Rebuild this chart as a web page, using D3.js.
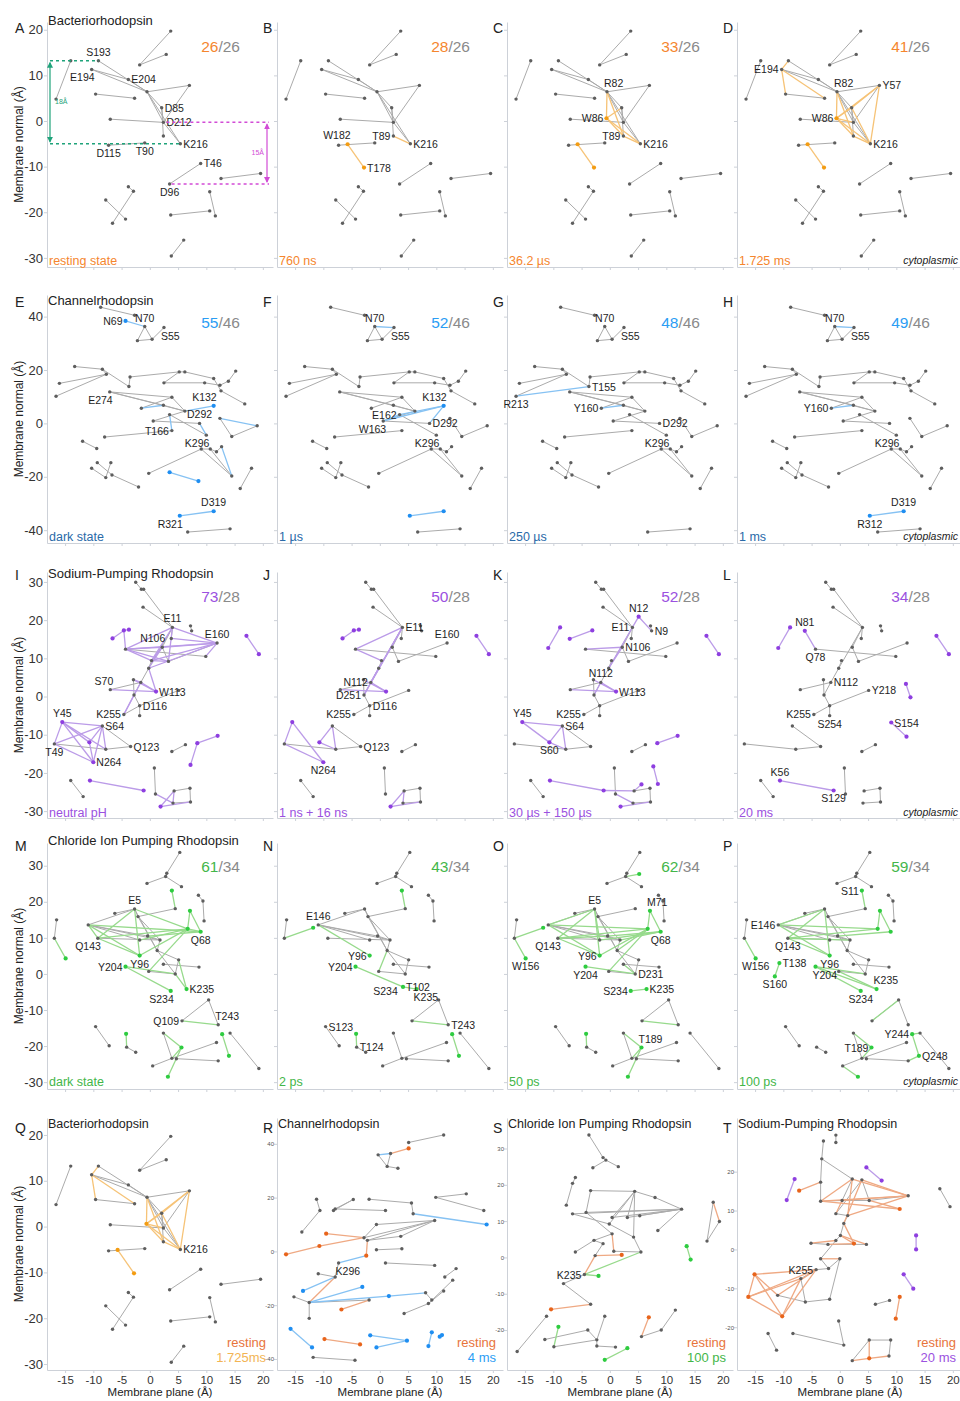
<!DOCTYPE html>
<html>
<head>
<meta charset="utf-8">
<script src="https://cdn.jsdelivr.net/npm/d3@7"></script>
<style>
body{margin:0;background:#fff;}
text{font-family:"Liberation Sans",Arial,Helvetica,sans-serif;}
</style>
</head>
<body>
<svg id="fig" width="960" height="1401"></svg>
<script>
// ---------- data (Å) ----------
var brNodes = [
 ["b1",3.7,19.7],["b2",2.9,14.6],["b3",-1.8,12.3],["b4",-14,13.2],["b5",-16.6,4.8],
 ["S193",-9.1,13.2],["E194",-10.3,11.3],["E204",-3.8,9.1],["R82",-0.5,6.4],["Y57",7,7.8],
 ["b11",-9.6,5.9],["b12",-2.7,5],["D85",2.1,2.9],["D212",2.4,-0.3],["b15",-7,0.4],
 ["T89",2.4,-3.3],["K216",5.4,-5],["T90",-0.9,-4.8],["D115",-7.3,-5.3],["T46",9,-9.3],
 ["D96",3.5,-13.8],["b22",12.6,-12.6],["b23",19.6,-11.5],["b24",-3.8,-14.4],["b25",-2.9,-15.4],
 ["b26",-7.8,-17.3],["b27",-4.3,-21.5],["b28",-6.6,-22.4],["b29",10.6,-15.5],["b30",11.6,-20.8],
 ["b31",10.6,-19.7],["b32",3.7,-20.6],["b33",6,-26.1],["b34",3.8,-29.6],
 ["W182",-5.7,-5.1],["T178",-2.8,-10.2],["W86",-0.6,0.6]
];
var brBase = ["b1-b3","b2-b3","b4-b5","S193-R82","E194-R82","E194-E204","E204-R82","R82-Y57","R82-D85","R82-D212",
 "R82-K216","Y57-D212","D85-T89","D85-D212","D212-K216","b11-b12","b15-D212","D115-T90","T46-D96","b22-b23",
 "b24-b25","b25-b28","b26-b27","b29-b30","b32-b31","b33-b34"];
var brB = ["W182-T178","T89-K216"];
var brC = ["W182-T178","T89-K216","R82-W86","W86-D85","W86-T89","W86-K216","R82-T89"];
var brD = ["W182-T178","T89-K216","R82-W86","W86-D85","W86-K216","W86-Y57","Y57-K216","W86-D212","E194-b11",
 "E194-b12","S193-E194","R82-T89","D85-K216","W86-T89","Y57-D85"];
var brCounts = [26,28,33,41], brRef = 26;
var brTimes = ["resting state","760 ns","36.2 µs","1.725 ms"];

var chNodes = [
 ["c1",-8.7,43.5],["c2",-2.7,40.5],["N69",-4.3,38.4],["N70",-0.9,36.3],["S55",2.5,35.9],["c4",-2.2,31],["c5",0.4,31.5],
 ["c6",-13.3,21.3],["c7",-8.4,20.3],["c8",-7.7,18.4],["c9",-16,15],["R213",-16.6,10.2],["T155",-3.7,13.8],["c12",-3.5,17.4],
 ["c13",5.2,19.3],["c14",6.2,19.3],["c15",11.3,16.8],["c16",2.5,15.2],["c17",9.7,15.2],["c18",12.4,14.3],["c19",13.9,15.8],
 ["c20",15.2,19.6],["c21",12.6,12.2],["c22",16.8,7.3],["E274",-7.1,11.8],["c24",3.9,9.8],["c25",2.4,6.8],["c26",6.2,4.6],
 ["Y160",-1.5,5.7],["K132",11.3,6.6],["E162",3.5,3.3],["W163",0.6,0.9],["D292",8.8,0],["c32",12.4,1.9],["c33",19,-0.9],
 ["T166",3.9,-2.7],["K296",10,-4.4],["c36",14.5,-4.9],["c37",-8,-5.1],["c38",-11.9,-6.7],["c39",-9.4,-9.4],
 ["c40",9.1,-9.6],["c41",10.7,-9.6],["c42",11.8,-10.6],["c43",12.7,-8.7],["c44",14.5,-19.7],["c45",18,-16.8],["c46",16,-24.4],
 ["c47",-0.2,-18.7],["c48",3.5,-18.3],["c49",8.6,-21.6],["c50",-10.3,-16.8],["c51",-9.3,-14.7],["c52",-7.8,-20.3],
 ["c53",-6.9,-14.7],["c54",-6.7,-19.3],["c55",-2,-23.8],["D319",11.3,-32.9],["R321",5.3,-34.6],["c58",6.7,-40.7],["c59",14.2,-39.5]
];
var chBase = ["c1-c2","N70-c4","N70-c5","c4-c5","c5-S55","c6-c7","c7-c8","c9-c8","R213-c8","c7-T155","c12-c13","c16-c17",
 "c14-c15","c17-c18","c19-c20","c21-c22","c15-c21","E274-c24","E274-c25","E274-c26","Y160-c24","c24-c26","W163-c26",
 "W163-D292","E162-K296","c32-c36","c33-c36","c37-T166","c38-c39","c40-c41","c41-c42","c42-c43","c47-c40","c40-c44",
 "c45-c46","c50-c52","c51-c54","c53-c52","c54-c55","c58-c59","c12-T155","c16-c13","c18-c19","c13-c14","c41-c44","c25-c26"];
var chE = ["N69-N70","Y160-c25","c26-K132","E162-T166","D292-K296","c32-c33","c43-c44","c48-c49","R321-D319"];
var chF = ["N70-S55","W163-K132","D292-K132","E162-K132","W163-E162","R321-D319"];
var chG = ["R213-T155","Y160-c25"];
var chH = ["N70-S55","Y160-c25","R321-D319"];
var chCounts = [55,52,48,49], chRef = 46;
var chTimes = ["dark state","1 µs","250 µs","1 ms"];

var naNodes = [
 ["n1",-2.5,29.9],["n2",-1.5,28.1],["n2b",-1.1,28.1],["n3",-1.2,23.4],["E11",4,18.1],["N12",5.1,20.9],["n5",7.2,18.5],
 ["N9",7.4,17.2],["n7",3.8,15.2],["E160",11.9,14],["N106",2.2,12.9],["Q78",-4.3,12.4],["n11",9.9,10.5],["n12",0.3,9.4],
 ["n13",3.3,9.2],["n14",-0.2,7.4],["p1",-6.6,15.2],["p2",-4.6,17.3],["p3",-3.7,17.5],["N81",-6.2,17.2],["p4",17.1,15.9],
 ["p5",19.3,11.1],["S70",-7,1.8],["n16",-2.9,4.4],["N112",-1.6,3.7],["D251",-2.8,0.4],["W113",1.1,1.3],["Y218",5.1,1.6],
 ["D116",-1.8,-2.4],["K255",-4.6,-4.7],["S254",-1.8,-5],["Y45",-15.5,-6.7],["S64",-8.4,-7.7],["T49",-16.9,-12.4],
 ["S60",-10.7,-12],["n28",-7.8,-13.8],["Q123",-3.4,-13.1],["N264",-10,-17.2],["n31",3.9,-14.4],["n32",6.3,-12.6],
 ["p6",8.4,-12.2],["p7",12,-10.3],["p8",7.2,-17.9],["S154",9.1,-6.8],["p9b",11.8,-10.5],["n33",-14,-22],["n34",-11.8,-26.2],
 ["K56",-10.6,-22],["S129",-1.1,-24.6],["n35",0.8,-18.7],["n36",1,-25.5],["n37",4.3,-24.7],["n38",7.1,-24],["n39",7.2,-27.6],
 ["n40",4.1,-27.9],["n41",1.9,-28.8],["p0a",-8.8,18.1],["p0b",-10.9,12.7],["pk1",-7.1,15.1],["pk2",-3.1,17.3],
 ["p11",5.6,-23],["p12",7.7,-18.3],["p13",8.5,-22.9],["pl1",11.7,3.3],["pl2",12.5,-0.2]
];
var naBase = ["n1-n2","n2b-E11","n3-E11","E11-n7","n5-N9","Q78-n11","E11-n14","n12-n14","n14-N112","N112-D251","n16-D251",
 "D251-D116","D116-Y218","S70-N112","K255-D116","S254-D116","S64-Q123","n28-Q123","T49-n28","n31-n32","n33-n34","n35-n36",
 "n37-n38","n38-n39","n40-n39","E11-N106","N106-n13","n13-E160"];
var naI = ["p1-p2","p2-Q78","p3-p2","p4-p5","Q78-E160","Q78-N106","Q78-n12","Q78-n13","E11-E160","N106-E160","n12-E160",
 "n11-E160","E11-Q78","N106-n12","n12-n13","n14-E160","n14-W113","N112-W113","S70-W113","n16-N112","K255-D251","Y45-T49",
 "Y45-S64","Y45-n28","Y45-N264","T49-S64","T49-N264","S64-N264","S64-n28","S60-N264","S60-Y45","S64-S60","p6-p7","p6-p8",
 "K56-S129","n37-n41","n41-n39","n36-n40","n37-n40","E11-n13","N106-n14","E11-n12","n7-E160","n16-W113","K255-N112"];
var naJ = ["p1-p2","p3-p2","p4-p5","Q78-E11","E11-D251","E11-n14","S70-W113","N112-W113","n16-W113","Y45-T49","Y45-N264",
 "T49-N264","S60-S64","S64-n28","S60-n28","n37-n41","n41-n39","n37-n40","N112-n14","E11-N112","Q78-n12","n14-D251"];
var naK = ["N12-N9","N12-E11","p0a-p0b","pk1-pk2","p4-p5","Q78-N106","N106-n14","E11-n14","N112-W113","S70-W113","n16-W113",
 "N112-D251","Y45-S64","Y45-S60","S64-S60","S64-n28","S60-n28","p6-p7","K56-S129","S129-n37","n37-p11","n41-n39","n36-n40","p12-p13"];
var naL = ["p0a-p0b","N81-Q78","S154-p9b","K56-S129","p4-p5","pl1-pl2"];
var naCounts = [73,50,52,34], naRef = 28;
var naTimes = ["neutral pH","1 ns + 16 ns","30 µs + 150 µs","20 ms"];

var clNodes = [
 ["m1",5.3,33.7],["m2",3,27.9],["m3",2.8,27],["m4",-0.5,25.1],["m5",5.6,24.2],["S11",3.9,23.1],["m7",4.5,18.1],["m8",8.6,21.8],
 ["m9",9.4,20.2],["m10",9.6,14.7],["M71",7.1,17.5],["m12",6.7,12.5],["Q68",9,11.7],["E5",-2.7,18],["m15",-6.2,16.8],
 ["m16",-2.1,15.9],["E146",-10.9,13.6],["Q143",-9.2,9.9],["m19",-1.8,9.4],["m20",-0.4,10.5],["m21",1.8,9.4],["Y96",-1.8,5.1],
 ["m23",1.3,6.5],["m24",5.1,3.9],["m25",2.4,2.7],["m26",8.7,1.9],["m27",-0.2,0.7],["D231",4.5,0],["Y204",-4.3,2],
 ["S234",3.7,-4.7],["K235",6.5,-4.2],["m32",-16.5,15],["m33",-16.9,9.9],["W156",-14.9,4.3],["m35",10.4,-7.2],["Q109",5.7,-13],
 ["T243",12.1,-14.1],["S123",-9.6,-14.6],["m39",-7.2,-19.9],["m40",-4.2,-16.6],["T124",-4.1,-20.3],["m42",-2.5,-21.7],
 ["m43",2.4,-16.4],["T189",5.6,-20.4],["m45",3.9,-23.4],["m46",4.7,-23.5],["m47",11.8,-19],["m48",0.5,-25.5],["m49",3.2,-28.5],
 ["m50",12.1,-24.1],["Y244",12.8,-16.7],["Q248",14,-22.7],["m53",14.2,-16.4],["m54",19.3,-26.2],["T138",-10.7,3],
 ["S160",-11.5,-0.7],["T102",4.1,-3.6],["gN1",-11.8,12.8],["gO2",5.2,27.7]
];
var clBase = ["m1-m2","m2-m3","m3-m4","m3-m5","m8-m9","m9-m10","E5-m15","E5-m16","m16-m7","E146-E5","E146-m19","E146-m20",
 "E146-m21","E5-m23","m16-m23","m23-D231","m23-m24","m25-m26","m27-D231","D231-m24","m32-m33","m35-Q109","m35-T243",
 "S123-m39","T124-m42","m43-m45","m45-m47","m46-m50","m48-m45","m53-m54","Q143-m21","m20-m21","m21-m23","m16-m21"];
var clM = ["S11-m7","M71-m12","M71-Q68","m12-Q68","E146-Y96","Q143-Y96","E5-Y96","E5-Q143","Q143-m12","Y96-m12","m20-Q68",
 "m27-m12","Y204-S234","Y204-D231","D231-K235","m24-K235","m33-W156","m40-T124","m43-T189","T189-m49","T189-m45",
 "Y244-Q248","Q109-T243","E146-Q143","E5-m12","m19-m12","E146-Q68"];
var clN = ["S11-m7","E146-Y96","m33-gN1","m27-m23","Y204-T102","T102-K235","Q109-T243","T124-m40","Y244-Q248"];
var clO = ["m3-gO2","W156-m33","m33-gN1","E146-Y96","Q143-Y96","E5-Y96","E5-Q143","E5-E146","Q143-m12","Y96-m12","m20-Q68",
 "M71-m12","M71-Q68","m27-m12","m23-m12","Y204-D231","m25-D231","S234-K235","m43-T189","T189-m45","T189-m49","Q109-T243",
 "m40-T124","E146-m12","m19-Q68","Q143-m20","m21-Q68","E5-m19"];
var clP = ["S11-m7","W156-m33","T138-S160","E146-Y96","Q143-Y96","E5-Y96","E5-Q143","E5-E146","Q143-m12","m20-Q68","M71-m12",
 "M71-Q68","Y204-K235","Y204-S234","m27-K235","Y204-D231","T189-m43","T189-m45","m48-m49","Y244-Q248","Q248-m50","m53-Y244",
 "E146-m12","Q143-m21","m35-Q109"];
var clCounts = [61,43,62,59], clRef = 34;
var clTimes = ["dark state","2 ps","50 ps","100 ps"];

// bottom row: resting vs. late state
var rNodes = [
 ["r1",11.3,43.3],["r2",5.1,40.5],["r3",5.1,38.3],["r4",1.9,36.4],["r5",-0.3,35.9],["r6",1.3,31.6],["r7",3.2,30.9],
 ["r8",-11.2,19.4],["r9",-10.6,15.2],["r10",-8.2,15.2],["r11",-4.7,19.3],["r12",-1.9,19.4],["r13",5.6,18],["r14",-7.9,15.8],
 ["r15",1,15.2],["r16",-13.8,7.2],["r17",9.9,20.1],["r18",15.3,21.4],["r19",18.4,15.2],["r20",5.9,14],["r21",18.9,10],
 ["r22",9.7,11.5],["r23",-0.6,10],["r24",-2.8,5.1],["r25",-9.5,6.6],["r26",-2.2,4.1],["r27",3.7,5.6],["r28",-0.6,0.6],
 ["r29",3.9,1],["r30",-16.6,-1.1],["r31",-10.7,2],["r32",-2.4,-1.6],["r33",1,-4.3],["r34",9.7,-5.2],["K296",-7.3,-4.3],
 ["r36",13.5,-6.4],["r37",11.5,-9.5],["r38",-10.9,-8.3],["r39",-7.9,-9.5],["r40",-13.6,-14.7],["r41",-15.2,-16.9],
 ["r42",-12.5,-19],["r43",-3.1,-13.2],["r44",-1.9,-18.1],["r45",-6.8,-21.6],["r46",1.6,-16.6],["r47",8.1,-15.4],
 ["r48",9.2,-18.1],["r49",11.3,-14.7],["r50",8.6,-19.4],["r51",4.3,-23.1],["r52",12.9,-10.7],["r53",-12.5,-24.9],
 ["r54",-15.8,-28.8],["r55",-12,-35.7],["r56",-9.8,-32.6],["r57",-3.5,-34.6],["r58",-1.7,-31.2],["r59",-0.6,-35.7],
 ["r60",4.8,-33.2],["r61",9.2,-30.1],["r62",10.6,-31.7],["r63",8.6,-35.2],["r64",11,-31.1],["r65",-11.8,-39.4],["r66",-4.4,-40.5]
];
var rGray = ["r1-r2","r4-r6","r5-r6","r6-r7","r8-r9","r10-r11","r14-r15","r12-r13","r17-r18","r17-r19","r16-r9","r23-r22",
 "r24-r22","r26-r22","r23-r24","r27-r26","r28-r29","r27-r22","r33-r34","r36-r37","r38-r39","K296-r39","r41-r42","r47-r48",
 "r49-r50","r52-r50","r51-r50","r65-r66","r53-r42","r44-r42","r13-r20","r11-r14"];
var rRest = ["r3-r4","r25-r24","r30-r31","r45-r44","r39-r42","r56-r57","r26-r32","r31-r24"];
var rLate = ["r20-r21","r40-r39","r42-r43","r42-r46","r46-r47","r54-r55","r58-r60","r59-r60","r61-r63","r62-r64","K296-r32","r5-r4"];

var sNodes = [
 ["s1",-3.7,33.7],["s2",-1.2,27.5],["s3",-0.7,26.8],["s4",-3,24.7],["s5",1.5,25],["s6",-6.1,22],["s7",-6.6,20.4],
 ["s8",-7.7,14.4],["s9",-3.4,18.4],["s10",4.4,18.2],["s11",8,16.5],["s12",12.7,13.3],["s13",-4.2,12.4],["s14",-6.6,12],
 ["s15",0.4,11],["s16",3.1,11],["s17",5.3,11.5],["s18",-0.1,9.2],["s19",4.2,5.6],["s20",0.4,6.5],["s21",-2.8,4.7],
 ["s22",8.5,7.4],["s23",-6.1,1.5],["s24",-2.6,0.5],["s25",2.1,0.7],["s26",5.5,1.5],["s27",0.7,1.7],["s28",-1.2,3.8],
 ["K235",-4.5,-4.7],["s30",-2,-5.1],["s31",-8.2,-7.2],["s32",-3.4,-12.9],["s33",-10.4,-14.3],["s34",-11.2,-16.2],
 ["s35",-16.4,-25.9],["s36",-11.5,-22.6],["s37",-9.1,-19.1],["s38",-9.9,-24.6],["s39",-3.9,-20],["s40",-2.3,-22.7],
 ["s41",-0.9,-16.2],["s42",-2.3,-24.4],["s43",1,-24.7],["s44",3.1,-25],["s45",-0.9,-28.2],["s46",6.9,-16.5],
 ["s47",5.6,-21.8],["s48",9.1,-20],["s49",11.6,-14.5],["s50",18.3,15.2],["s51",19.4,9.9],["s52",17.2,4.5],
 ["s53",13.6,3.1],["s54",14.3,-0.6]
];
var sGray = ["s1-s2","s2-s3","s3-s4","s3-s5","s6-s7","s7-s8","s9-s10","s9-s13","s10-s11","s10-s15","s10-s16","s10-s18",
 "s11-s12","s13-s12","s14-s12","s15-s12","s16-s12","s17-s12","s18-s19","s10-s19","s12-s22","s20-s21","s21-s23","s19-s26",
 "s27-s26","s28-s24","s28-s21","K235-s31","s31-s32","s34-s35","s36-s39","s39-s40","s38-s40","s40-s42","s41-s40","s42-s43",
 "s47-s48","s49-s48","s50-s52","s51-s52","s14-s18","s13-s20"];
var sRest = ["s24-s25","K235-s24","s33-s32","s46-s47","s50-s51","s20-s27"];
var sLate = ["K235-s26","K235-s30","s37-s38","s44-s45","s53-s54"];

var tNodes = [
 ["t1",-2.9,27.9],["t2",-0.7,29.4],["t3",-0.7,27.5],["t4",-3.2,23.3],["t5",4.7,21.1],["t6",7.4,17.7],["t7",-8,18.1],
 ["t8",-9.4,12.7],["t9",-7.2,15.1],["t10",-3.4,17.3],["t11",2.2,18.1],["t12",3.9,17.9],["t13",-3.4,12.4],["t14",0.4,12.6],
 ["t15",5.2,12.6],["t16",12.1,13.8],["t17",10.6,10.4],["t18",-0.7,9.2],["t19",1.4,8.7],["t20",0.7,6.7],["t21",-0.7,2.3],
 ["t22",0.1,3.6],["t23",-5.1,1.6],["t24",-2.1,1.3],["t25",2.5,1.5],["t26",4.7,1.3],["t27",-3.4,-2.4],["t28",0,-2.4],
 ["t29",-2,-4.9],["K255",-4.2,-5.2],["t31",-15.1,-6.4],["t32",-16.2,-12.2],["t33",-10.2,-17.2],["t34",-6.9,-7.5],
 ["t35",-11,-11.8],["t36",-6.1,-13.5],["t37",-1.8,-12.8],["t38",-12.7,-21.6],["t39",-11.2,-25.9],["t40",-8.3,-21.6],
 ["t41",0.7,-24.6],["t42",-0.2,-18.4],["t43",2.2,-28.6],["t44",5.2,-23.3],["t45",9,-23.3],["t46",8.7,-27.4],["t47",5.2,-28],
 ["t48",6.3,-14.1],["t49",8.8,-13.1],["t50",10.6,-12.2],["t51",9.9,-17.8],["t52",11.3,-6.4],["t53",13,-10.1],
 ["t54",13.5,3.6],["t55",13.5,0],["t56",17.7,15.6],["t57",19.5,11]
];
var tGray = ["t1-t4","t2-t3","t4-t11","t4-t10","t10-t13","t11-t14","t12-t15","t13-t14","t14-t15","t15-t16","t18-t19","t19-t20",
 "t20-t22","t22-t21","t21-t27","t23-t24","t24-t26","t27-t29","t28-t29","t29-K255","K255-t34","t34-t36","t35-t36","t36-t37",
 "t37-t28","t38-t39","t40-t41","t41-t42","t43-t44","t44-t45","t45-t46","t48-t49","t56-t57","t12-t18"];
var tRest = ["t9-t10","t11-t16","t12-t16","t13-t16","t14-t16","t15-t17","t13-t17","t11-t13","t14-t18","t11-t19","t12-t20",
 "t16-t19","t20-t25","t22-t25","t21-t23","t24-t25","t27-t28","t31-t32","t31-t33","t32-t33","t31-K255","t32-K255","t33-K255",
 "t31-t35","t32-t34","t33-t34","K255-t35","t43-t47","t44-t47","t46-t47","t50-t51","t26-t22"];
var tLate = ["t5-t6","t7-t8","t54-t55","t52-t53"];

var titles = ["Bacteriorhodopsin","Channelrhodopsin","Sodium-Pumping Rhodopsin","Chloride Ion Pumping Rhodopsin"];
var letters = "ABCDEFGHIJKLMNOPQRST".split("");
var xTicks = [-15,-10,-5,0,5,10,15,20];

// residue labels per panel: [node, text, side]
var labA = [["S193","S193","a"],["E194","E194","bl"],["E204","E204","r"],["D85","D85","r"],["D212","D212","r"],["K216","K216","r"],
 ["T90","T90","b"],["D115","D115","b"],["T46","T46","r"],["D96","D96","b"]];
var labB = [["W182","W182","al"],["T89","T89","l"],["K216","K216","r"],["T178","T178","r"]];
var labC = [["R82","R82","ar"],["W86","W86","l"],["T89","T89","l"],["K216","K216","r"]];
var labD = [["E194","E194","l"],["R82","R82","ar"],["Y57","Y57","r"],["W86","W86","l"],["K216","K216","r"]];
var labE = [["N69","N69","l"],["N70","N70","a"],["S55","S55","br"],["E274","E274","bl"],["K132","K132","al"],["D292","D292","a"],
 ["T166","T166","l"],["K296","K296","bl"],["D319","D319","a"],["R321","R321","bl"]];
var labF = [["N70","N70","a"],["S55","S55","br"],["K132","K132","al"],["E162","E162","l"],["W163","W163","bl"],["D292","D292","r"],["K296","K296","bl"]];
var labG = [["N70","N70","a"],["S55","S55","br"],["T155","T155","r"],["R213","R213","b"],["Y160","Y160","l"],["D292","D292","r"],["K296","K296","bl"]];
var labH = [["N70","N70","a"],["S55","S55","br"],["Y160","Y160","l"],["K296","K296","bl"],["D319","D319","a"],["R321","R312","b"]];
var labI = [["E11","E11","a"],["E160","E160","a"],["N106","N106","al"],["S70","S70","al"],["W113","W113","r"],["K255","K255","l"],
 ["D116","D116","r"],["Y45","Y45","a"],["S64","S64","r"],["T49","T49","b"],["Q123","Q123","r"],["N264","N264","r"]];
var labJ = [["E11","E11","r"],["E160","E160","a"],["N112","N112","l"],["D251","D251","l"],["D116","D116","r"],["K255","K255","l"],
 ["Q123","Q123","r"],["N264","N264","b"]];
var labK = [["N12","N12","a"],["E11","E11","l"],["N9","N9","r"],["N106","N106","r"],["N112","N112","a"],["W113","W113","r"],
 ["K255","K255","l"],["Y45","Y45","a"],["S64","S64","r"],["S60","S60","b"]];
var labL = [["N81","N81","a"],["Q78","Q78","b"],["N112","N112","r"],["Y218","Y218","r"],["K255","K255","l"],["S254","S254","b"],
 ["S154","S154","r"],["K56","K56","a"],["S129","S129","b"]];
var labM = [["E5","E5","a"],["Q143","Q143","bl"],["Q68","Q68","b"],["Y96","Y96","b"],["Y204","Y204","l"],["S234","S234","bl"],
 ["K235","K235","r"],["Q109","Q109","l"],["T243","T243","ar"]];
var labN = [["E146","E146","a"],["Y96","Y96","l"],["Y204","Y204","l"],["T102","T102","r"],["S234","S234","l"],["K235","K235","br"],
 ["T243","T243","r"],["S123","S123","r"],["T124","T124","r"]];
var labO = [["E5","E5","a"],["M71","M71","ar"],["Q68","Q68","b"],["Q143","Q143","bl"],["W156","W156","b"],["Y96","Y96","l"],
 ["Y204","Y204","b"],["D231","D231","r"],["S234","S234","l"],["K235","K235","r"],["T189","T189","ar"]];
var labP = [["S11","S11","l"],["E146","E146","l"],["Q143","Q143","b"],["W156","W156","b"],["T138","T138","r"],["S160","S160","b"],
 ["Y96","Y96","b"],["Y204","Y204","br"],["K235","K235","ar"],["S234","S234","b"],["T189","T189","l"],["Y244","Y244","l"],["Q248","Q248","r"]];

// ---------- layout ----------
var colX = [47, 277, 507, 737];
var panelW = 226;
var xDomain = [-18.2, 21.8];
var rowBox = [[22,267],[295,543],[572,818],[843,1089],[1118,1370]];
var rowDomain = [[21.7,-32],[48.1,-44.8],[32.6,-31.8],[36.3,-31.9]];
var rowTicks = [[20,10,0,-10,-20,-30],[40,20,0,-20,-40],[30,20,10,0,-10,-20,-30],[30,20,10,0,-10,-20,-30]];
var rowTitleY = [25,305,578,845,1128];
var rowLetterY = [33,307,580,851,1133];
var rowCountY = [52,328,602,872];
var rowTimeY = [265,541,817,1086];

var pal = {
  br:{num:"#f5862e", time:"#f5862e", edge:"#f6c377", node:"#f39c12", late:"#f2b453"},
  ch:{num:"#2b9df4", time:"#2a6aa8", edge:"#86c2f3", node:"#1f8ef1", late:"#2b9df4"},
  na:{num:"#9b51e0", time:"#9b51e0", edge:"#bb9be8", node:"#8e3fe0", late:"#9b51e0"},
  cl:{num:"#43b649", time:"#43b649", edge:"#97da8c", node:"#2ecc40", late:"#43b649"}
};
var restPal = {text:"#e8743b", edge:"#efa983", node:"#e8641b"};
var grayEdge = "#ababab", grayNode = "#5e5e5e", axisCol = "#cdd1d8";

var spots = {r:[3,4,"start"], l:[-3,4,"end"], a:[0,-5,"middle"], b:[0,12,"middle"], al:[3,-5,"end"],
             ar:[-3,-5,"start"], bl:[3,12,"end"], br:[-3,12,"start"]};

var proteins = [
  {key:"br", nodes:brNodes, base:brBase, hot:[[],brB,brC,brD], counts:brCounts, ref:brRef, times:brTimes, labels:[labA,labB,labC,labD]},
  {key:"ch", nodes:chNodes, base:chBase, hot:[chE,chF,chG,chH], counts:chCounts, ref:chRef, times:chTimes, labels:[labE,labF,labG,labH]},
  {key:"na", nodes:naNodes, base:naBase, hot:[naI,naJ,naK,naL], counts:naCounts, ref:naRef, times:naTimes, labels:[labI,labJ,labK,labL]},
  {key:"cl", nodes:clNodes, base:clBase, hot:[clM,clN,clO,clP], counts:clCounts, ref:clRef, times:clTimes, labels:[labM,labN,labO,labP]}
];

var bottom = [
  {key:"br", title:titles[0], nodes:brNodes, gray:brBase, rest:[], late:brD, lateText:"1.725ms", labels:[["K216","K216","r"]],
   domain:[23.7,-31.3], ticks:[20,10,0,-10,-20,-30], big:true},
  {key:"ch", title:titles[1], nodes:rNodes, gray:rGray, rest:rRest, late:rLate, lateText:"4 ms", labels:[["K296","K296","br"]],
   domain:[49.6,-44.1], ticks:[40,20,0,-20,-40], big:false},
  {key:"cl", title:titles[3], nodes:sNodes, gray:sGray, rest:sRest, late:sLate, lateText:"100 ps", labels:[["K235","K235","l"]],
   domain:[38.4,-31], ticks:[30,20,10,0,-10,-20], big:false},
  {key:"na", title:titles[2], nodes:tNodes, gray:tGray, rest:tRest, late:tLate, lateText:"20 ms", labels:[["K255","K255","l"]],
   domain:[33.8,-31], ticks:[20,10,0,-10,-20], big:false}
];

var svg = d3.select("#fig");
var plain = function(d){ return String(d); };

function nodeMap(list){
  var m = {};
  list.forEach(function(d){ m[d[0]] = {id:d[0], x:d[1], y:d[2]}; });
  return m;
}

function toEdges(list, kind){
  return list.map(function(s){ var p = s.split("-"); return {a:p[0], b:p[1], kind:kind}; });
}

function drawFrame(g, x, y, yTicks, col, row, big){
  var x0 = x.range()[0];
  var yAx = d3.axisLeft(y).tickValues(yTicks).tickSize(3).tickSizeOuter(0).tickFormat(plain);
  var ya = g.append("g").attr("transform","translate("+x0+",0)").call(yAx);
  var xAx = d3.axisBottom(x).tickValues(xTicks).tickSize(3).tickSizeOuter(0).tickFormat(plain);
  var xa = g.append("g").attr("transform","translate(0,"+y.range()[1]+")").call(xAx);
  [ya, xa].forEach(function(a){
    a.select(".domain").attr("stroke", axisCol);
    a.selectAll(".tick line").attr("stroke", axisCol);
  });
  if (big){
    ya.selectAll(".tick text").attr("font-size",13).attr("fill","#333").attr("x",-4)
      .attr("font-family","Liberation Sans, Arial, sans-serif");
  } else if (row == 4){
    ya.selectAll(".tick text").attr("font-size",6).attr("fill","#555").attr("x",-3);
  } else {
    ya.selectAll(".tick text").remove();
  }
  if (row == 4){
    xa.selectAll(".tick text").attr("font-size",11.5).attr("fill","#333").attr("y",6)
      .attr("font-family","Liberation Sans, Arial, sans-serif");
  } else {
    xa.selectAll(".tick text").remove();
  }
}

function drawGraph(g, x, y, nm, edges, colors, labels){
  var used = {};
  edges.forEach(function(e){
    [e.a, e.b].forEach(function(id){
      if (!nm[id]) { console.log("missing node "+id); return; }
      if (!used[id]) used[id] = {gray:false, rest:false, hot:false};
      used[id][e.kind] = true;
    });
  });
  var ok = edges.filter(function(e){ return nm[e.a] && nm[e.b]; });
  var order = {gray:0, rest:1, hot:2};
  ok.sort(function(p,q){ return order[p.kind]-order[q.kind]; });

  g.append("g").selectAll("line").data(ok).join("line")
    .attr("x1", function(e){ return x(nm[e.a].x); })
    .attr("y1", function(e){ return y(nm[e.a].y); })
    .attr("x2", function(e){ return x(nm[e.b].x); })
    .attr("y2", function(e){ return y(nm[e.b].y); })
    .attr("stroke", function(e){ return e.kind=="gray" ? grayEdge : (e.kind=="rest" ? restPal.edge : colors.edge); })
    .attr("stroke-width", function(e){ return e.kind=="gray" ? 1 : 1.3; });

  var pts = Object.keys(used).map(function(id){ return nm[id]; });
  g.append("g").selectAll("circle").data(pts).join("circle")
    .attr("cx", function(d){ return x(d.x); })
    .attr("cy", function(d){ return y(d.y); })
    .attr("r", function(d){ return used[d.id].gray ? 1.7 : 2.1; })
    .attr("fill", function(d){
      var u = used[d.id];
      if (u.gray) return grayNode;
      if (u.rest) return restPal.node;
      return colors.node;
    });

  g.append("g").selectAll("text").data(labels.filter(function(l){ return nm[l[0]]; })).join("text")
    .attr("x", function(l){ return x(nm[l[0]].x) + spots[l[2]][0]; })
    .attr("y", function(l){ return y(nm[l[0]].y) + spots[l[2]][1]; })
    .attr("text-anchor", function(l){ return spots[l[2]][2]; })
    .attr("font-size", 10.5)
    .attr("fill", "#1e1e1e")
    .text(function(l){ return l[1]; });
}

// rows 1-4
proteins.forEach(function(pr, row){
  var nm = nodeMap(pr.nodes);
  var colors = pal[pr.key];
  for (var col = 0; col < 4; col++){
    var x0 = colX[col];
    var x = d3.scaleLinear().domain(xDomain).range([x0, x0+panelW]);
    var y = d3.scaleLinear().domain(rowDomain[row]).range(rowBox[row]);
    var g = svg.append("g").attr("class","panel");
    drawFrame(g, x, y, rowTicks[row], col, row, col==0);

    var edges = toEdges(pr.base,"gray").concat(toEdges(pr.hot[col],"hot"));
    drawGraph(g, x, y, nm, edges, colors, pr.labels[col]);

    g.append("text").attr("x", col==0 ? 15 : x0-14).attr("y", rowLetterY[row])
      .attr("font-size",14).attr("fill","#222").text(letters[row*4+col]);
    if (col==0){
      g.append("text").attr("x", x0+1).attr("y", rowTitleY[row])
        .attr("font-size",13).attr("fill","#222").text(titles[row]);
    }
    var ct = g.append("text").attr("x", x0+193).attr("y", rowCountY[row])
      .attr("text-anchor","end").attr("font-size",15.5);
    ct.append("tspan").attr("fill", colors.num).text(pr.counts[col]);
    ct.append("tspan").attr("fill", "#8a8a8a").text("/"+pr.ref);

    g.append("text").attr("x", x0+2).attr("y", rowTimeY[row])
      .attr("font-size",12.5).attr("fill", colors.time).text(pr.times[col]);
    if (col==3){
      g.append("text").attr("x", 958).attr("y", rowTimeY[row]-1).attr("text-anchor","end")
        .attr("font-size",10.5).attr("font-style","italic").attr("fill","#222").text("cytoplasmic");
    }
  }
  var mid = (rowBox[row][0]+rowBox[row][1])/2;
  svg.append("text").attr("transform","translate(23,"+mid+") rotate(-90)")
    .attr("text-anchor","middle").attr("font-size",12).attr("fill","#222").text("Membrane normal (Å)");
});

// bottom row
bottom.forEach(function(p, col){
  var row = 4;
  var x0 = colX[col];
  var nm = nodeMap(p.nodes);
  var colors = pal[p.key];
  var x = d3.scaleLinear().domain(xDomain).range([x0, x0+panelW]);
  var y = d3.scaleLinear().domain(p.domain).range(rowBox[row]);
  var g = svg.append("g").attr("class","panel");
  drawFrame(g, x, y, p.ticks, col, row, p.big);
  var edges = toEdges(p.gray,"gray").concat(toEdges(p.rest,"rest")).concat(toEdges(p.late,"hot"));
  drawGraph(g, x, y, nm, edges, colors, p.labels);

  g.append("text").attr("x", col==0 ? 15 : x0-14).attr("y", rowLetterY[row])
    .attr("font-size",14).attr("fill","#222").text(letters[16+col]);
  g.append("text").attr("x", x0+1).attr("y", rowTitleY[row])
    .attr("font-size",12.5).attr("fill","#222").text(p.title);
  g.append("text").attr("x", x0+219).attr("y", 1347).attr("text-anchor","end")
    .attr("font-size",13).attr("fill", restPal.text).text("resting");
  g.append("text").attr("x", x0+219).attr("y", 1362).attr("text-anchor","end")
    .attr("font-size",13).attr("fill", colors.late).text(p.lateText);
  g.append("text").attr("x", x0+panelW/2).attr("y", 1396).attr("text-anchor","middle")
    .attr("font-size",11.5).attr("fill","#222").text("Membrane plane (Å)");
  if (col==0){
    var mid = (rowBox[row][0]+rowBox[row][1])/2;
    svg.append("text").attr("transform","translate(23,"+mid+") rotate(-90)")
      .attr("text-anchor","middle").attr("font-size",12).attr("fill","#222").text("Membrane normal (Å)");
  }
});

// distance guides in panel A
(function(){
  var nm = nodeMap(brNodes);
  var x = d3.scaleLinear().domain(xDomain).range([colX[0], colX[0]+panelW]);
  var y = d3.scaleLinear().domain(rowDomain[0]).range(rowBox[0]);
  var defs = svg.append("defs");
  [["arG","#1fa37a"],["arM","#d24bd6"]].forEach(function(m){
    defs.append("marker").attr("id",m[0]).attr("viewBox","0 0 6 6").attr("refX",5).attr("refY",3)
      .attr("markerWidth",5).attr("markerHeight",5).attr("orient","auto-start-reverse")
      .append("path").attr("d","M0,0L6,3L0,6Z").attr("fill",m[1]);
  });
  var g = svg.append("g");
  var gx = colX[0]+3, top = y(nm.S193.y), bot = y(nm.K216.y);
  g.append("line").attr("x1",gx).attr("x2",x(nm.S193.x)).attr("y1",top).attr("y2",top)
    .attr("stroke","#1fa37a").attr("stroke-width",1.5).attr("stroke-dasharray","3,3");
  g.append("line").attr("x1",gx).attr("x2",x(nm.K216.x)).attr("y1",bot).attr("y2",bot)
    .attr("stroke","#1fa37a").attr("stroke-width",1.5).attr("stroke-dasharray","3,3");
  g.append("line").attr("x1",gx).attr("x2",gx).attr("y1",top+2).attr("y2",bot-2)
    .attr("stroke","#1fa37a").attr("stroke-width",1.2)
    .attr("marker-start","url(#arG)").attr("marker-end","url(#arG)");
  g.append("text").attr("x",gx+5).attr("y",(top+bot)/2+2).attr("font-size",7).attr("fill","#1fa37a").text("18Å");

  var mx = 267, t2 = y(nm.D212.y), b2 = y(nm.D96.y);
  g.append("line").attr("x1",x(nm.D212.x)+3).attr("x2",mx+2).attr("y1",t2).attr("y2",t2)
    .attr("stroke","#d24bd6").attr("stroke-width",1.5).attr("stroke-dasharray","3,3");
  g.append("line").attr("x1",x(nm.D96.x)+2).attr("x2",mx+2).attr("y1",b2).attr("y2",b2)
    .attr("stroke","#d24bd6").attr("stroke-width",1.5).attr("stroke-dasharray","3,3");
  g.append("line").attr("x1",mx).attr("x2",mx).attr("y1",t2+2).attr("y2",b2-2)
    .attr("stroke","#d24bd6").attr("stroke-width",1.2)
    .attr("marker-start","url(#arM)").attr("marker-end","url(#arM)");
  g.append("text").attr("x",mx-3).attr("y",(t2+b2)/2+2).attr("text-anchor","end")
    .attr("font-size",7).attr("fill","#d24bd6").text("15Å");
})();
</script>
</body>
</html>
